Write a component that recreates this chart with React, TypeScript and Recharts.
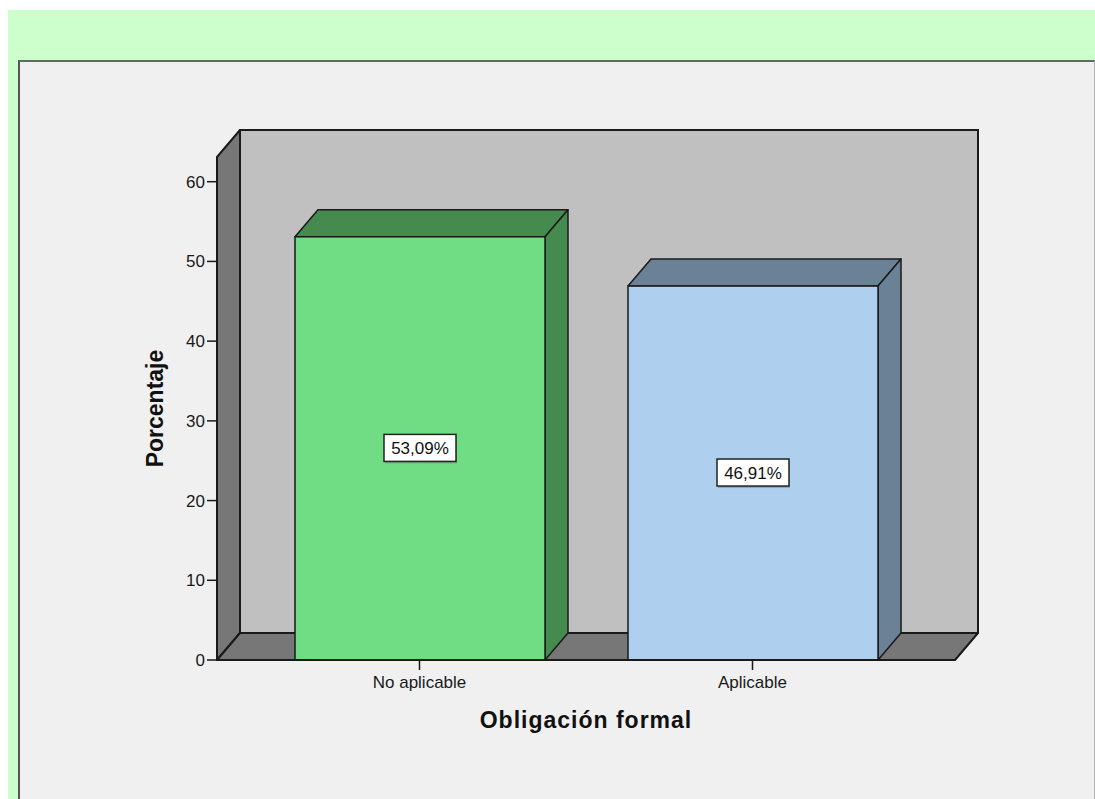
import React from 'react';
import { BarChart, Bar, XAxis, YAxis, ReferenceArea, Label } from 'recharts';

const categories = ['No aplicable', 'Aplicable'];
const percentages = [53.09, 46.91];
const valueLabels = ['53,09%', '46,91%'];
const yTicks = [0, 10, 20, 30, 40, 50, 60];
const yMax = 63.1;

const FRONT = ['#70DD85', '#AECFEE'];
const SIDE = ['#458A4F', '#6A8196'];
const DX = 23;
const DY = -27;
const PAD = 36; // x axis padding, the walls span it too
const EDGE = '#1a1a1a';
const FONT = '"Liberation Sans", Arial, sans-serif';

const data = categories.map((c, i) => ({ category: c, value: percentages[i], label: valueLabels[i], idx: i }));

function Walls(props: any) {
    const x = props.x - PAD;
    const w = props.width + 2 * PAD;
    const { y, height: h } = props;
    const b = y + h;
    return (
        <g>
            <rect x={x + DX} y={y + DY} width={w} height={h} fill="#C0C0C0" stroke={EDGE} strokeWidth={2} />
            <polygon points={`${x},${y} ${x + DX},${y + DY} ${x + DX},${b + DY} ${x},${b}`} fill="#777777" stroke={EDGE} strokeWidth={2} strokeLinejoin="round" />
            <polygon points={`${x},${b} ${x + DX},${b + DY} ${x + w + DX},${b + DY} ${x + w},${b}`} fill="#777777" stroke={EDGE} strokeWidth={2} strokeLinejoin="round" />
        </g>
    );
}

function Bar3D(props: any) {
    const { x, y, width: w, height: h, payload } = props;
    const i = payload.idx;
    const b = y + h;
    const cx = x + w / 2;
    const cy = y + h / 2;
    return (
        <g>
            <polygon points={`${x},${y} ${x + DX},${y + DY} ${x + w + DX},${y + DY} ${x + w},${y}`} fill={SIDE[i]} stroke={EDGE} strokeWidth={1.5} strokeLinejoin="round" />
            <polygon points={`${x + w},${y} ${x + w + DX},${y + DY} ${x + w + DX},${b + DY} ${x + w},${b}`} fill={SIDE[i]} stroke={EDGE} strokeWidth={1.5} strokeLinejoin="round" />
            <rect x={x} y={y} width={w} height={h} fill={FRONT[i]} stroke={EDGE} strokeWidth={1.5} />
            <rect x={cx - 35} y={cy - 12} width={72} height={27} fill="#555" opacity={0.35} />
            <rect x={cx - 36} y={cy - 14} width={72} height={27} fill="#fff" stroke="#222" strokeWidth={1.5} />
            <text x={cx} y={cy + 6} textAnchor="middle" fontFamily={FONT} fontSize={17} fill="#111">{payload.label}</text>
        </g>
    );
}

export default function App() {
    return (
        <>
            <style>{'body{margin:0;overflow:hidden}'}</style>
            <div style={{ position: 'absolute', left: 8, top: 10, width: 1087, height: 789, background: '#CCFFCC' }}>
                <div style={{ position: 'absolute', left: 10, top: 50, width: 1077, height: 739, background: '#F0F0F0', borderTop: '2px solid #5f6f5f', borderLeft: '2px solid #555', borderRight: '1px solid #b0b0b0', boxSizing: 'border-box' }}>
                    <BarChart width={1074} height={737} data={data} margin={{ top: 95, right: 139, bottom: 99, left: 137 }} barSize={250}>
                        <ReferenceArea y1={0} y2={yMax} shape={<Walls />} zIndex={-10} ifOverflow="visible" />
                        <XAxis
                            dataKey="category"
                            height={40}
                            padding={{ left: PAD, right: PAD }}
                            axisLine={{ stroke: EDGE, strokeWidth: 2 }}
                            tickLine={{ stroke: EDGE, strokeWidth: 1.5 }}
                            tickSize={10}
                            tickMargin={6}
                            tick={{ fill: '#1a1a1a', fontSize: 17, fontFamily: FONT }}
                        >
                            <Label value="Obligación formal" position="center" dy={40} fill="#111" fontSize={23} fontWeight="bold" fontFamily={FONT} letterSpacing={1} />
                        </XAxis>
                        <YAxis
                            width={60}
                            domain={[0, yMax]}
                            ticks={yTicks}
                            axisLine={{ stroke: EDGE, strokeWidth: 2 }}
                            tickLine={{ stroke: EDGE, strokeWidth: 1.5 }}
                            tickSize={10}
                            tick={{ fill: '#1a1a1a', fontSize: 17, fontFamily: FONT }}
                        >
                            <Label value="Porcentaje" position="center" angle={-90} dx={-32} fill="#111" fontSize={23} fontWeight="bold" fontFamily={FONT} />
                        </YAxis>
                        <Bar dataKey="value" shape={<Bar3D />} isAnimationActive={false} />
                    </BarChart>
                </div>
            </div>
        </>
    );
}
